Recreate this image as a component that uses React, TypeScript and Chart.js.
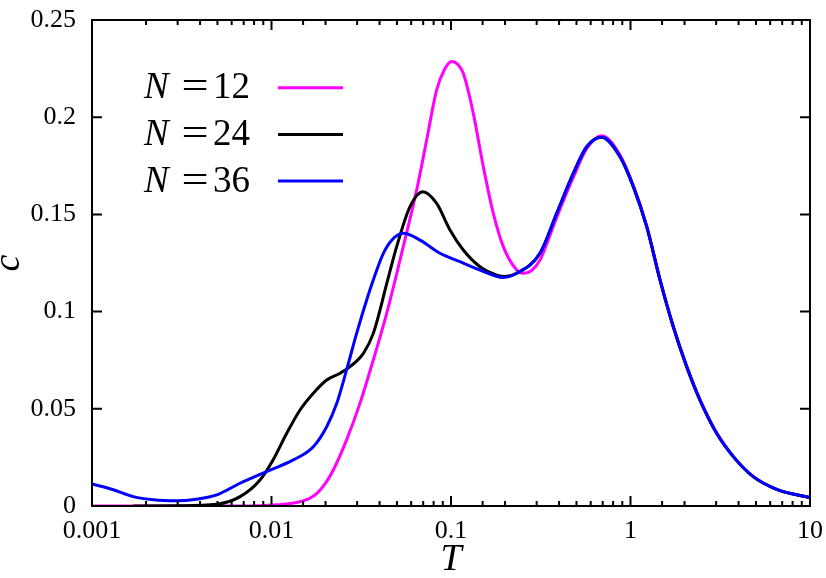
import React, { useEffect, useRef } from 'react';
import { Chart, registerables } from 'chart.js';

Chart.register(...registerables);

// ---- data ----
const seriesLabels = ['12', '24', '36'];
const seriesColors = ['#ff00ff', '#000000', '#0000ff'];
const xTickLabels = ['0.001', '0.01', '0.1', '1', '10'];
const yTickLabels = ['0', '0.05', '0.1', '0.15', '0.2', '0.25'];

const tN12 = [0.001, 0.003, 0.006, 0.0085, 0.0102, 0.0125, 0.0144, 0.0162, 0.0179, 0.02, 0.0221, 0.0262, 0.0311, 0.0369, 0.0438, 0.0488, 0.0542, 0.0644, 0.0732, 0.0832, 0.092, 0.1009, 0.11, 0.1171, 0.1331, 0.1514, 0.172, 0.1956, 0.2323, 0.253, 0.28, 0.3131, 0.388, 0.48, 0.57, 0.691, 0.874, 1.037, 1.231, 1.46, 1.731, 2.056, 2.439, 3.02, 3.74, 4.83, 6.52, 10];
const cN12 = [0, 0, 0, 0.0001, 0.0005, 0.0012, 0.0022, 0.0038, 0.0065, 0.0118, 0.0185, 0.034, 0.0528, 0.0751, 0.099, 0.116, 0.1334, 0.1626, 0.1883, 0.214, 0.2245, 0.2286, 0.2268, 0.2226, 0.202, 0.1745, 0.1506, 0.1334, 0.1214, 0.1197, 0.121, 0.1265, 0.1485, 0.169, 0.1838, 0.1905, 0.1805, 0.1648, 0.144, 0.1165, 0.0924, 0.0718, 0.0546, 0.0375, 0.0254, 0.0151, 0.0086, 0.0043];

const tN24 = [0.0017, 0.003, 0.00496, 0.00668, 0.00863, 0.0102, 0.01216, 0.01442, 0.0171, 0.0203, 0.0241, 0.0274, 0.0325, 0.0369, 0.0444, 0.0498, 0.0591, 0.0696, 0.0832, 0.0987, 0.1171, 0.145, 0.1797, 0.2, 0.2323, 0.3131, 0.388, 0.48, 0.57, 0.691, 0.874, 1.037, 1.231, 1.46, 1.731, 2.056, 2.439, 3.02, 3.74, 4.83, 6.52, 10];
const cN24 = [0, 0.0001, 0.0009, 0.0048, 0.0134, 0.0237, 0.0374, 0.0494, 0.058, 0.0648, 0.0683, 0.0717, 0.0785, 0.0888, 0.1163, 0.1334, 0.154, 0.1617, 0.1557, 0.142, 0.1317, 0.1231, 0.1188, 0.118, 0.1197, 0.13, 0.1506, 0.1711, 0.1848, 0.1897, 0.1797, 0.1643, 0.1437, 0.1163, 0.0922, 0.0717, 0.0545, 0.0374, 0.0254, 0.0151, 0.0086, 0.0043];

const tN36 = [0.001, 0.0013, 0.0017, 0.0022, 0.00297, 0.0038, 0.00496, 0.00668, 0.0094, 0.01323, 0.0171, 0.0203, 0.0231, 0.0262, 0.0298, 0.0339, 0.0369, 0.042, 0.047, 0.0542, 0.0672, 0.0868, 0.1122, 0.145, 0.1956, 0.2323, 0.3131, 0.388, 0.48, 0.57, 0.691, 0.874, 1.037, 1.231, 1.46, 1.731, 2.056, 2.439, 3.02, 3.74, 4.83, 6.52, 10];
const cN36 = [0.0113, 0.0085, 0.0048, 0.0032, 0.0027, 0.0035, 0.0057, 0.0117, 0.0177, 0.0237, 0.0305, 0.0408, 0.0528, 0.07, 0.0888, 0.106, 0.1163, 0.13, 0.137, 0.1403, 0.1368, 0.13, 0.1257, 0.1214, 0.1176, 0.1197, 0.13, 0.1506, 0.1711, 0.1848, 0.1897, 0.1797, 0.1643, 0.1437, 0.1163, 0.0922, 0.0717, 0.0545, 0.0374, 0.0254, 0.0151, 0.0086, 0.0043];

const seriesT = [tN12, tN24, tN36];
const seriesC = [cN12, cN24, cN36];

const FONT = '"Liberation Serif", "Times New Roman", serif';

const findLabel = (labels: string[], v: number) =>
  labels.find((s) => Math.abs(parseFloat(s) - v) <= Math.max(Math.abs(v), 1e-9) * 1e-6 + 1e-12) ?? '';

const isDecade = (v: number) => {
  const l = Math.log10(v);
  return Math.abs(l - Math.round(l)) < 1e-6;
};

const zeroPad = (s: any) => {
  s.paddingTop = 0;
  s.paddingBottom = 0;
  s.paddingLeft = 0;
  s.paddingRight = 0;
};

const frameTicks = {
  id: 'frameTicks',
  afterDatasetsDraw(chart: any) {
    const { ctx, chartArea, scales } = chart;
    const { left, right, top, bottom } = chartArea;
    const xs = scales.x;
    const ys = scales.y;
    ctx.save();
    ctx.strokeStyle = '#000';
    ctx.lineWidth = 2;
    ctx.beginPath();
    xs.ticks.forEach((t: any) => {
      const px = xs.getPixelForValue(t.value);
      const len = isDecade(t.value) ? 10 : 5;
      ctx.moveTo(px, bottom);
      ctx.lineTo(px, bottom - len);
      ctx.moveTo(px, top);
      ctx.lineTo(px, top + len);
    });
    ys.ticks.forEach((t: any) => {
      const py = ys.getPixelForValue(t.value);
      ctx.moveTo(left, py);
      ctx.lineTo(left + 10, py);
      ctx.moveTo(right, py);
      ctx.lineTo(right - 10, py);
    });
    ctx.stroke();
    ctx.strokeRect(left, top, right - left, bottom - top);
    ctx.restore();
  },
};

const legendPlugin = {
  id: 'texLegend',
  afterDraw(chart: any) {
    const { ctx } = chart;
    ctx.save();
    ctx.fillStyle = '#000';
    ctx.textBaseline = 'alphabetic';
    seriesLabels.forEach((lab, i) => {
      const base = 98.3 + i * 46.7;
      const lineY = 87.7 + i * 46.7;
      ctx.font = `italic 37px ${FONT}`;
      ctx.textAlign = 'left';
      ctx.fillText('N', 144, base);
      ctx.font = `37px ${FONT}`;
      ctx.save();
      ctx.translate(195, 0);
      ctx.scale(1.3, 1);
      ctx.textAlign = 'center';
      ctx.fillText('=', 0, base);
      ctx.restore();
      ctx.textAlign = 'left';
      ctx.fillText(lab, 213, base);
      ctx.strokeStyle = seriesColors[i];
      ctx.lineWidth = 3;
      ctx.beginPath();
      ctx.moveTo(278, lineY);
      ctx.lineTo(343, lineY);
      ctx.stroke();
    });
    ctx.restore();
  },
};

export default function App() {
  const ref = useRef<HTMLCanvasElement | null>(null);
  useEffect(() => {
    if (!ref.current) return;
    const datasets = seriesLabels.map((lab, i) => ({
      label: 'N=' + lab,
      data: seriesT[i].map((t, j) => ({ x: t, y: seriesC[i][j] })),
      borderColor: seriesColors[i],
      backgroundColor: seriesColors[i],
      borderWidth: 3,
      pointRadius: 0,
      fill: false,
      cubicInterpolationMode: 'monotone' as const,
      order: seriesLabels.length - 1 - i,
    }));
    const chart = new Chart(ref.current, {
      type: 'line',
      data: { datasets },
      options: {
        animation: false,
        responsive: false,
        events: [],
        layout: { padding: { left: 0, top: 20, right: 16, bottom: 0 } },
        plugins: { legend: { display: false }, tooltip: { enabled: false } },
        scales: {
          x: {
            type: 'logarithmic',
            min: 0.001,
            max: 10,
            afterFit: (s: any) => {
              s.height = 72;
              zeroPad(s);
            },
            grid: { display: false, drawTicks: false },
            border: { display: false },
            ticks: {
              autoSkip: false,
              maxRotation: 0,
              minRotation: 0,
              padding: 10,
              color: '#000',
              font: { family: FONT, size: 26 },
              callback: (v: any) => findLabel(xTickLabels, Number(v)),
            },
            title: {
              display: true,
              text: 'T',
              color: '#000',
              font: { family: FONT, size: 38, style: 'italic', lineHeight: 0.9 },
              padding: { top: 0, bottom: 1 },
            },
          },
          y: {
            type: 'linear',
            min: 0,
            max: 0.25,
            afterFit: (s: any) => {
              s.width = 92;
              zeroPad(s);
            },
            grid: { display: false, drawTicks: false },
            border: { display: false },
            ticks: {
              stepSize: 0.05,
              padding: 16,
              color: '#000',
              font: { family: FONT, size: 26 },
              callback: (v: any) => findLabel(yTickLabels, Number(v)),
            },
            title: {
              display: true,
              text: 'c',
              color: '#000',
              font: { family: FONT, size: 38, style: 'italic', lineHeight: 0.5 },
              padding: { top: 0, bottom: 0 },
            },
          },
        },
      },
      plugins: [frameTicks, legendPlugin],
    });
    return () => chart.destroy();
  }, []);
  return (
    <div style={{ position: 'fixed', left: 0, top: 0, width: 826, height: 578, background: '#fff' }}>
      <canvas ref={ref} width={826} height={578} style={{ width: 826, height: 578 }} />
    </div>
  );
}
